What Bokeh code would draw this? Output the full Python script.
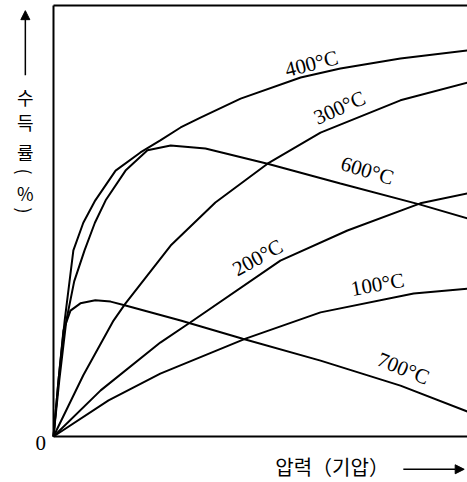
import math
from bokeh.plotting import figure
from bokeh.models import Range1d, Label, Arrow, NormalHead
from bokeh.embed import file_html
from bokeh.resources import INLINE

# ---- data: yield (%) vs pressure (arbitrary units, 0..100) ----
t_labels = ["400°C", "300°C", "600°C", "200°C", "100°C", "700°C"]

p400_x = [0, 1.2, 2.7, 4.8, 7.2, 10.1, 15.0, 21.0, 25.8, 30.7, 35.5, 45.2, 59.7, 69.3, 83.8, 100]
p400_y = [0, 13.0, 26.9, 43.2, 49.6, 54.8, 61.7, 65.9, 68.7, 71.7, 74.0, 78.4, 83.3, 85.4, 87.7, 89.6]

p300_x = [0, 7.2, 14.5, 17.4, 28.3, 39.1, 51.7, 64.5, 83.8, 100]
p300_y = [0, 14.2, 26.9, 30.9, 44.3, 54.3, 63.3, 70.5, 78.0, 82.1]

p600_x = [0, 1.4, 3.1, 5.0, 7.5, 10.0, 12.6, 17.4, 22.7, 28.3, 36.7, 51.7, 69.3, 88.6, 100]
p600_y = [0, 13.0, 26.9, 36.0, 43.2, 49.6, 54.8, 61.7, 66.4, 67.5, 66.8, 63.3, 58.7, 53.8, 50.6]

p200_x = [0, 11.4, 25.8, 33.1, 54.8, 71.0, 88.6, 100]
p200_y = [0, 10.7, 21.8, 26.5, 40.8, 47.8, 54.1, 56.4]

p100_x = [0, 13.3, 25.8, 46.4, 64.5, 87.0, 100]
p100_y = [0, 8.4, 14.6, 22.7, 28.8, 33.2, 34.3]

p700_x = [0, 1.2, 2.4, 4.1, 6.5, 10.1, 13.8, 17.4, 30.7, 45.7, 64.5, 83.8, 100]
p700_y = [0, 13.0, 24.6, 29.2, 30.9, 31.6, 31.3, 30.4, 26.9, 22.7, 17.6, 11.8, 5.8]

curves = [(p400_x, p400_y), (p300_x, p300_y), (p600_x, p600_y),
          (p200_x, p200_y), (p100_x, p100_y), (p700_x, p700_y)]

# label anchor positions (data units) and angles (deg)
lab_x = [62.3, 69.1, 75.8, 49.3, 78.3, 84.5]
lab_y = [86.5, 76.3, 61.7, 41.5, 35.3, 15.8]
lab_a = [14, 24, -17, 29, 10, -22]

# vertical y title: characters stacked, parentheses turned
y_title_chars = ["수", "득", "률", "(", "%", ")"]
y_title_pos = [78.7, 72.9, 65.9, 61.5, 56.6, 52.4]
y_title_ang = [0, 0, 0, -90, 0, -90]
x_title = "압력（기압）"

X_MAX, Y_MAX = 100, 100

# whole canvas is the frame; axes drawn as lines at the data bounds
p = figure(width=467, height=482, output_backend="svg", toolbar_location=None,
           x_range=Range1d(-12.80, 100.0), y_range=Range1d(-10.67, 101.16),
           x_axis_location=None, y_axis_location=None,
           min_border_left=0, min_border_right=0, min_border_top=0, min_border_bottom=0)
p.outline_line_color = None
p.xgrid.visible = False
p.ygrid.visible = False
p.background_fill_color = "white"
p.border_fill_color = "white"

# frame lines: left, bottom, top
p.segment(x0=[0, 0, 0], y0=[0, 0, Y_MAX], x1=[0, X_MAX + 2, X_MAX + 2], y1=[Y_MAX, 0, Y_MAX],
          line_color="black", line_width=2)

for (xs, ys) in curves:
    p.line(xs, ys, line_color="black", line_width=2)

for t, x, y, a in zip(t_labels, lab_x, lab_y, lab_a):
    p.add_layout(Label(x=x, y=y, text=t, angle=math.radians(a), text_align="center",
                       text_baseline="middle", text_font="Liberation Serif",
                       text_font_size="21px", text_color="black"))

# origin label
p.add_layout(Label(x=-3.1, y=-1.4, text="0", text_align="center", text_baseline="middle",
                   text_font="Liberation Serif", text_font_size="21px", text_color="black"))

# y title (vertical, stacked characters)
for ch, yy, aa in zip(y_title_chars, y_title_pos, y_title_ang):
    p.add_layout(Label(x=-6.8, y=yy, text=ch, angle=math.radians(aa), text_align="center",
                       text_baseline="middle", text_font="Noto Sans CJK KR",
                       text_font_size="18px", text_color="black"))
p.add_layout(Arrow(end=NormalHead(size=9, fill_color="black", line_color="black"),
                   x_start=-6.8, y_start=83.8, x_end=-6.8, y_end=98.8,
                   line_width=1.5, line_color="black"))

# x title
p.add_layout(Label(x=67.3, y=-7.0, text=x_title, text_align="center", text_baseline="middle",
                   text_font="Noto Sans CJK KR", text_font_size="20px", text_color="black"))
p.add_layout(Arrow(end=NormalHead(size=9, fill_color="black", line_color="black"),
                   x_start=84.5, y_start=-7.6, x_end=99.2, y_end=-7.6,
                   line_width=1.5, line_color="black"))

open("out.html", "w").write(file_html(p, INLINE))
